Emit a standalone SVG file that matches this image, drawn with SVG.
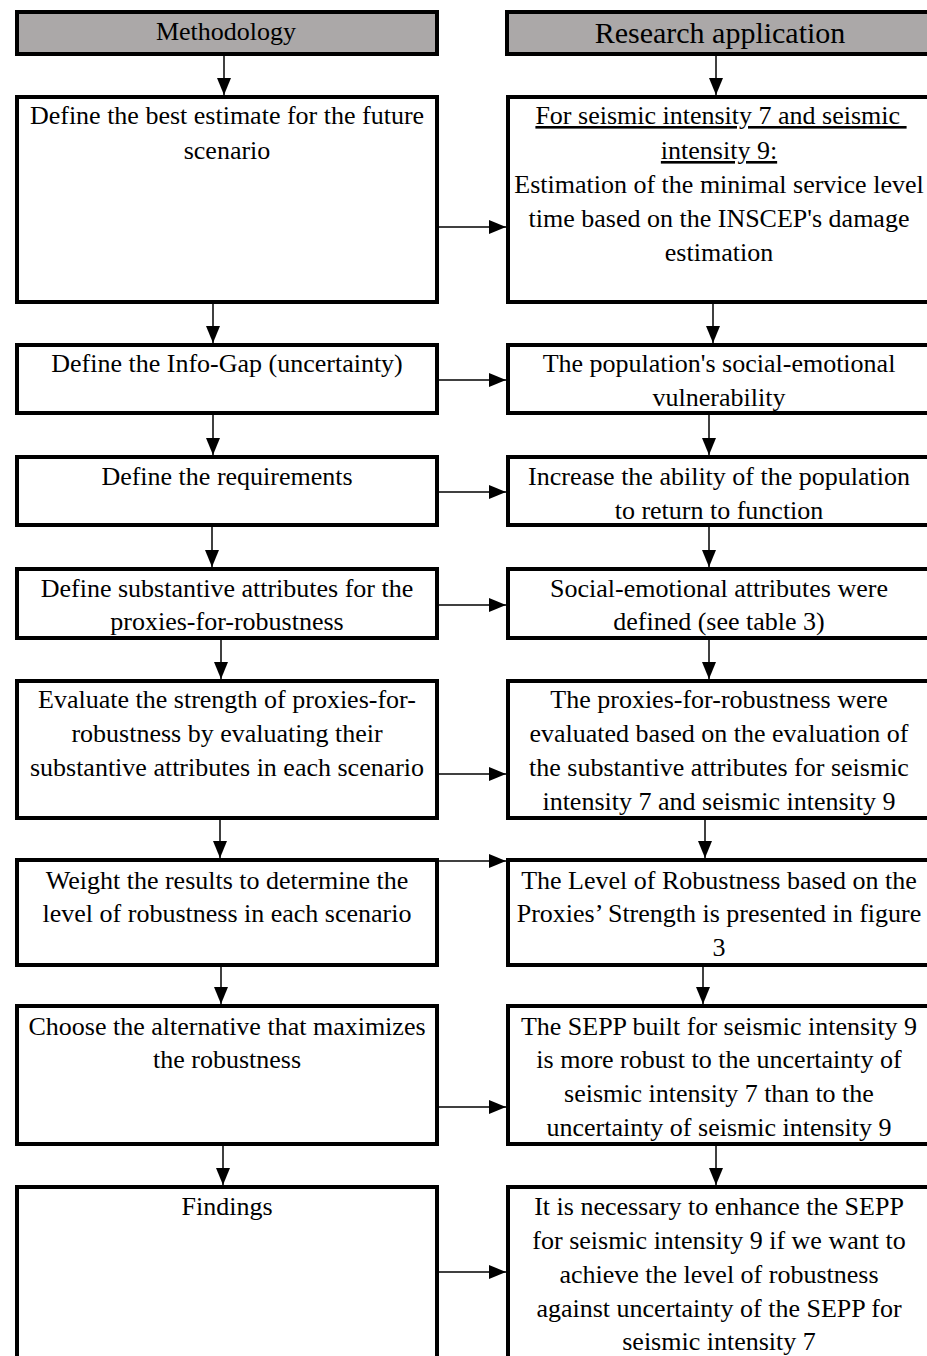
<svg xmlns="http://www.w3.org/2000/svg" width="927" height="1356" viewBox="0 0 927 1356">
<defs>
<style>
.box{fill:#fff;stroke:#000;stroke-width:4}
.hdr{fill:#aba8a8;stroke:#000;stroke-width:4}
text{font-family:"Liberation Serif","Times New Roman",serif;font-size:26px;fill:#000;text-anchor:middle}
.c{stroke:#000;stroke-width:1.5;fill:none;marker-end:url(#ah)}
.u{text-decoration:underline}
</style>
<marker id="ah" markerWidth="17" markerHeight="14" refX="17" refY="7" orient="auto" markerUnits="userSpaceOnUse"><path d="M0,0 L17,7 L0,14 z" fill="#000"/></marker>
</defs>
<rect width="927" height="1356" fill="#fff"/>
<g id="hdr-methodology"><rect class="hdr" x="17" y="12" width="420" height="42"/><text x="226" y="40" style="font-size:26px">Methodology</text></g>
<g id="hdr-research"><rect class="hdr" x="507" y="12" width="425" height="42"/><text x="720" y="43" style="font-size:30px">Research application</text></g>

<g id="L1"><rect class="box" x="17" y="97" width="420" height="205"/><text x="227" y="124">Define the best estimate for the future</text><text x="227" y="159">scenario</text></g>
<g id="R1"><rect class="box" x="508" y="97" width="422" height="205"/><text x="721" y="124" class="u" xml:space="preserve">For seismic intensity 7 and seismic </text><text x="719" y="159" class="u">intensity 9:</text><text x="719" y="193">Estimation of the minimal service level</text><text x="719" y="227">time based on the INSCEP's damage</text><text x="719" y="261">estimation</text></g>

<g id="L2"><rect class="box" x="17" y="345" width="420" height="68"/><text x="227" y="372">Define the Info-Gap (uncertainty)</text></g>
<g id="R2"><rect class="box" x="508" y="345" width="422" height="68"/><text x="719" y="372">The population's social-emotional</text><text x="719" y="406">vulnerability</text></g>

<g id="L3"><rect class="box" x="17" y="457" width="420" height="68"/><text x="227" y="485">Define the requirements</text></g>
<g id="R3"><rect class="box" x="508" y="457" width="422" height="68"/><text x="719" y="485">Increase the ability of the population</text><text x="719" y="519">to return to function</text></g>

<g id="L4"><rect class="box" x="17" y="569" width="420" height="69"/><text x="227" y="597">Define substantive attributes for the</text><text x="227" y="630">proxies-for-robustness</text></g>
<g id="R4"><rect class="box" x="508" y="569" width="422" height="69"/><text x="719" y="597">Social-emotional attributes were</text><text x="719" y="630">defined (see table 3)</text></g>

<g id="L5"><rect class="box" x="17" y="681" width="420" height="137"/><text x="227" y="708">Evaluate the strength of proxies-for-</text><text x="227" y="742">robustness by evaluating their</text><text x="227" y="776">substantive attributes in each scenario</text></g>
<g id="R5"><rect class="box" x="508" y="681" width="422" height="137"/><text x="719" y="708">The proxies-for-robustness were</text><text x="719" y="742">evaluated based on the evaluation of</text><text x="719" y="776">the substantive attributes for seismic</text><text x="719" y="810">intensity 7 and seismic intensity 9</text></g>

<g id="L6"><rect class="box" x="17" y="860" width="420" height="105"/><text x="227" y="889">Weight the results to determine the</text><text x="227" y="922">level of robustness in each scenario</text></g>
<g id="R6"><rect class="box" x="508" y="860" width="422" height="105"/><text x="719" y="889">The Level of Robustness based on the</text><text x="719" y="922">Proxies’ Strength is presented in figure</text><text x="719" y="956">3</text></g>

<g id="L7"><rect class="box" x="17" y="1006" width="420" height="138"/><text x="227" y="1035">Choose the alternative that maximizes</text><text x="227" y="1068">the robustness</text></g>
<g id="R7"><rect class="box" x="508" y="1006" width="422" height="138"/><text x="719" y="1035">The SEPP built for seismic intensity 9</text><text x="719" y="1068">is more robust to the uncertainty of</text><text x="719" y="1102">seismic intensity 7 than to the</text><text x="719" y="1136">uncertainty of seismic intensity 9</text></g>

<g id="L8"><rect class="box" x="17" y="1187" width="420" height="180"/><text x="227" y="1215">Findings</text></g>
<g id="R8"><rect class="box" x="508" y="1187" width="422" height="180"/><text x="719" y="1215">It is necessary to enhance the SEPP</text><text x="719" y="1249">for seismic intensity 9 if we want to</text><text x="719" y="1283">achieve the level of robustness</text><text x="719" y="1317">against uncertainty of the SEPP for</text><text x="719" y="1350">seismic intensity 7</text></g>

<g id="connectors">
<line class="c" x1="224" y1="56" x2="224" y2="95"/>
<line class="c" x1="716" y1="56" x2="716" y2="95"/>
<line class="c" x1="213" y1="304" x2="213" y2="343"/>
<line class="c" x1="713" y1="304" x2="713" y2="343"/>
<line class="c" x1="213" y1="415" x2="213" y2="455"/>
<line class="c" x1="709" y1="415" x2="709" y2="455"/>
<line class="c" x1="212" y1="527" x2="212" y2="567"/>
<line class="c" x1="709" y1="527" x2="709" y2="567"/>
<line class="c" x1="221" y1="640" x2="221" y2="679"/>
<line class="c" x1="709" y1="640" x2="709" y2="679"/>
<line class="c" x1="220" y1="820" x2="220" y2="858"/>
<line class="c" x1="705" y1="820" x2="705" y2="858"/>
<line class="c" x1="221" y1="967" x2="221" y2="1004"/>
<line class="c" x1="703" y1="967" x2="703" y2="1004"/>
<line class="c" x1="223" y1="1146" x2="223" y2="1185"/>
<line class="c" x1="716" y1="1146" x2="716" y2="1185"/>
<line class="c" x1="439" y1="227" x2="506" y2="227"/>
<line class="c" x1="439" y1="380" x2="506" y2="380"/>
<line class="c" x1="439" y1="492" x2="506" y2="492"/>
<line class="c" x1="439" y1="605" x2="506" y2="605"/>
<line class="c" x1="439" y1="774" x2="506" y2="774"/>
<line class="c" x1="439" y1="861" x2="506" y2="861"/>
<line class="c" x1="439" y1="1107" x2="506" y2="1107"/>
<line class="c" x1="439" y1="1272" x2="506" y2="1272"/>
</g>
</svg>
